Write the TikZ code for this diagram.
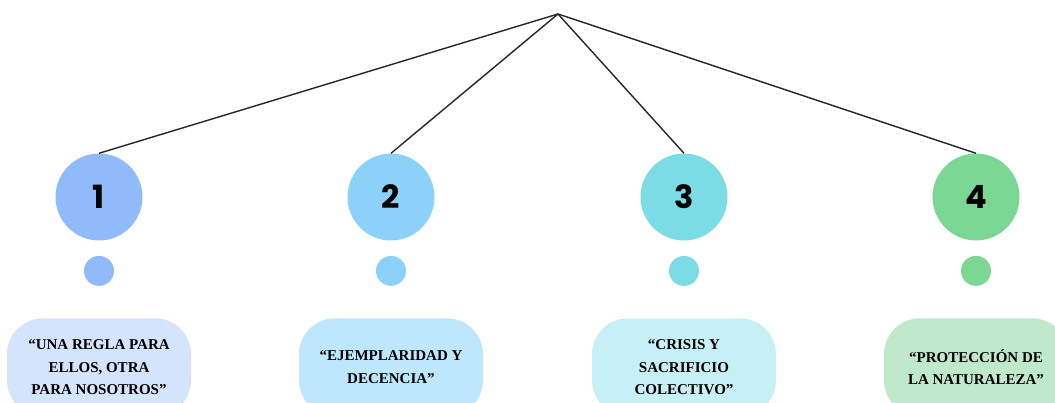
\documentclass[tikz,border=0pt]{standalone}
\usepackage{fontspec}
\setmainfont{Liberation Serif}
\newfontfamily\zahlfont{Poppins}
\usetikzlibrary{positioning}
\definecolor{kreisA}{HTML}{91BAFA}
\definecolor{kreisB}{HTML}{8CD2F8}
\definecolor{kreisC}{HTML}{7BDCE5}
\definecolor{kreisD}{HTML}{7AD894}
\definecolor{kastenA}{HTML}{D4E4FD}
\definecolor{kastenB}{HTML}{BEE6FC}
\definecolor{kastenC}{HTML}{C7F0F6}
\definecolor{kastenD}{HTML}{C0E8CA}
\tikzset{
    kreis/.style={circle, minimum size=87pt, inner sep=0pt, font=\zahlfont\bfseries\fontsize{32}{32}\selectfont},
    punkt/.style={circle, minimum size=30pt, inner sep=0pt},
    kasten/.style={rounded corners=36pt, minimum width=184pt, minimum height=98pt, inner sep=0pt, align=center, font=\bfseries\fontsize{15}{22.5}\selectfont},
    ast/.style={line width=1.4pt, black!85}
}
\begin{document}
\begin{tikzpicture}[x=1pt, y=1pt, node distance=15pt] % Spitze und vier Zweige
\useasboundingbox (0,0) rectangle (1055,403);
    \coordinate (spitze) at (558,389);
    \node[kreis, fill=kreisA] (k1) at (99,206) {1};
    \node[kreis, fill=kreisB] (k2) at (391,206) {2};
    \node[kreis, fill=kreisC] (k3) at (684,206) {3};
    \node[kreis, fill=kreisD] (k4) at (976,206) {4};
    \node[punkt, fill=kreisA, below=of k1] (p1) {};
    \node[punkt, fill=kreisB, below=of k2] (p2) {};
    \node[punkt, fill=kreisC, below=of k3] (p3) {};
    \node[punkt, fill=kreisD, below=of k4] (p4) {};
    \node[kasten, fill=kastenA, below=32pt of p1] (t1) {“UNA REGLA PARA\\ELLOS, OTRA\\PARA NOSOTROS”};
    \node[kasten, fill=kastenB, below=32pt of p2] (t2) {“EJEMPLARIDAD Y\\DECENCIA”};
    \node[kasten, fill=kastenC, below=32pt of p3] (t3) {“CRISIS Y\\SACRIFICIO\\COLECTIVO”};
    \node[kasten, fill=kastenD, below=32pt of p4] (t4) {“PROTECCIÓN DE\\LA NATURALEZA”};
    \draw[ast] (spitze) -- (k1.north);
    \draw[ast] (spitze) -- (k2.north);
    \draw[ast] (spitze) -- (k3.north);
    \draw[ast] (spitze) -- (k4.north);
\end{tikzpicture}
\end{document}
